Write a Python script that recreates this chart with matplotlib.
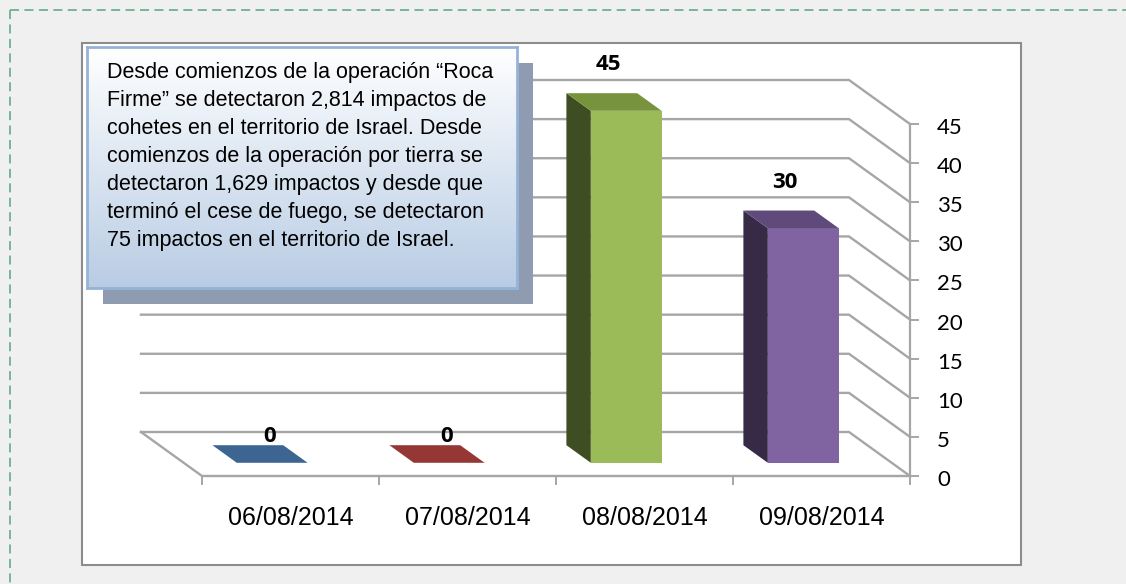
import numpy as np
import matplotlib.pyplot as plt
from matplotlib.patches import Polygon, Rectangle
from matplotlib.lines import Line2D
from matplotlib.colors import LinearSegmentedColormap

# data
dates = ['06/08/2014', '07/08/2014', '08/08/2014', '09/08/2014']
impacts = [0, 0, 45, 30]
front_colors = ['#4f81bd', '#c0504d', '#9bbb59', '#8064a2']
top_colors = ['#3d6592', '#953735', '#77933c', '#604a7b']
side_colors = ['#2c4a6b', '#6e2826', '#3f4e22', '#372a46']
y_ticks = list(range(0, 50, 5))
note_lines = [
    'Desde comienzos de la operación “Roca',
    'Firme” se detectaron 2,814 impactos de',
    'cohetes en el territorio de Israel. Desde',
    'comienzos de la operación por tierra se',
    'detectaron 1,629 impactos y desde que',
    'terminó el cese de fuego, se detectaron',
    '75 impactos en el territorio de Israel.',
]

W, H = 1126, 584
fig = plt.figure(figsize=(W / 100, H / 100), dpi=100)
fig.patch.set_facecolor('#f0f0f0')


def fx(px):
    return px / W


def fy(py):
    return 1 - py / H


# page chrome: dashed border and white chart area
for xs, ys in [([fx(10), 1], [fy(10), fy(10)]), ([fx(10), fx(10)], [fy(10), 0])]:
    fig.add_artist(Line2D(xs, ys, color='#6fb08f', lw=1.3, dashes=(5, 3), zorder=-2))
fig.add_artist(Rectangle((fx(82), fy(565)), fx(1021) - fx(82), fy(43) - fy(565),
                         transform=fig.transFigure, facecolor='white',
                         edgecolor='#8c8c8c', lw=1.5, zorder=-1))

# main axes over the whole figure, scaled so the front floor edge spans 202..910 px
ax = fig.add_axes([0, 0, 1, 1])
ax.set_zorder(0)
ax.patch.set_visible(False)
ax.axis('off')
n = len(dates)
unit = (910 - 202) / n          # px per category
ppu = (476 - 124) / 45          # px per value unit
ax.set_xlim(-0.5 - 202 / unit, -0.5 + (W - 202) / unit)
ax.set_ylim(-(H - 476) / ppu, 476 / ppu)

X0, X1 = -0.5, n - 0.5
DX, DY = -61 / unit, 44 / ppu   # depth offset of the back wall
grid_c = '#a6a6a6'

# back wall gridlines bending onto the right axis
for v in y_ticks:
    ax.plot([X0 + DX, X1 + DX, X1], [v + DY, v + DY, v], color=grid_c, lw=1.7,
            solid_joinstyle='miter', zorder=1)
# floor
ax.plot([X0 + DX, X0, X1], [DY, 0, 0], color=grid_c, lw=1.7, zorder=1)
# right value axis
ax.plot([X1, X1], [0, y_ticks[-1]], color=grid_c, lw=1.6, zorder=1)
for v in y_ticks:
    ax.plot([X1, X1 + 8 / unit], [v, v], color=grid_c, lw=1.4, zorder=1)
    ax.text(X1 + 27 / unit, v - 4 / ppu, str(v), fontsize=16, family='Lato',
            ha='left', va='center', color='black')
# category ticks and labels
for i in range(n + 1):
    ax.plot([X0 + i, X0 + i], [0, -8 / ppu], color=grid_c, lw=1.4, zorder=1)
for i, d in enumerate(dates):
    ax.text(i, -42 / ppu, d, fontsize=18, family='Liberation Sans',
            ha='center', va='center', color='black')

# 3D bars
w = 0.4
f0, f1 = 0.3, 0.7
for i, v in enumerate(impacts):
    l, r = i - w / 2, i + w / 2
    ox0, oy0 = f0 * DX, f0 * DY
    ox1, oy1 = f1 * DX, f1 * DY
    top = [(l + ox0, v + oy0), (r + ox0, v + oy0), (r + ox1, v + oy1), (l + ox1, v + oy1)]
    if v > 0:
        side = [(l + ox0, oy0), (l + ox0, v + oy0), (l + ox1, v + oy1), (l + ox1, oy1)]
        ax.add_patch(Polygon(side, closed=True, facecolor=side_colors[i],
                             edgecolor='none', zorder=3))
        ax.add_patch(Rectangle((l + ox0, oy0), w, v, facecolor=front_colors[i],
                               edgecolor='none', zorder=3))
    ax.add_patch(Polygon(top, closed=True, facecolor=top_colors[i],
                         edgecolor='none', zorder=3))
    # value labels
    if v > 0:
        lx, ly = i + 0.6 * DX, v + DY + 15 / ppu
    else:
        lx, ly = i + 0.34 * DX, v + DY - 5 / ppu
    ax.text(lx, ly, str(v), fontsize=16, family='Open Sans', fontweight='bold',
            ha='center', va='center', color='black', zorder=4)

# text box with shadow
fig.add_artist(Rectangle((fx(103), fy(304)), fx(533) - fx(103), fy(63) - fy(304),
                         transform=fig.transFigure, facecolor='#8e9bb0',
                         edgecolor='none', zorder=1))
box = fig.add_axes([fx(87), fy(288), fx(517) - fx(87), fy(47) - fy(288)])
box.set_zorder(2)
grad = np.linspace(0, 1, 256).reshape(-1, 1)
box.imshow(grad, aspect='auto', extent=[0, 1, 0, 1],
           cmap=LinearSegmentedColormap.from_list('note', ['#ffffff', '#b8cce4']))
box.set_xticks([])
box.set_yticks([])
for s in box.spines.values():
    s.set_edgecolor('#95b3d7')
    s.set_linewidth(2)

for k, line in enumerate(note_lines):
    fig.text(fx(107), fy(78 + 28 * k), line, fontsize=15.5, family='Liberation Sans',
             ha='left', va='baseline', color='black', zorder=5)

fig.savefig('out.png', dpi=100, facecolor=fig.get_facecolor())
